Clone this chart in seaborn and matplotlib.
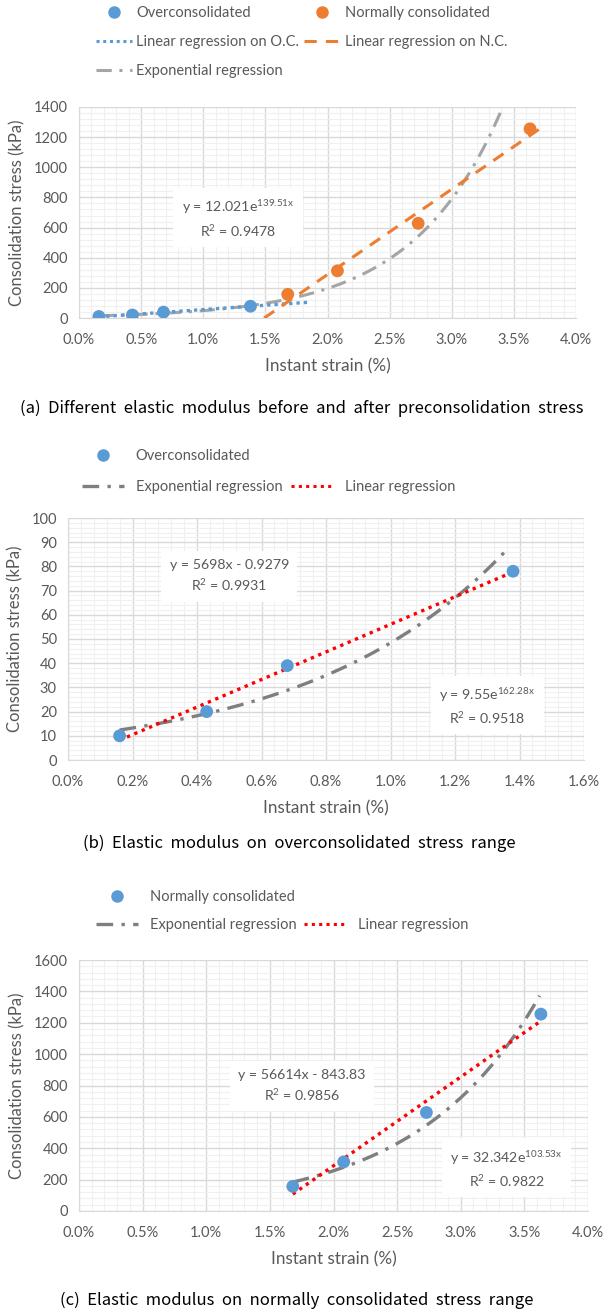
import numpy as np
import pandas as pd
import seaborn as sns
import matplotlib.pyplot as plt
from matplotlib.ticker import PercentFormatter, MultipleLocator
from matplotlib.lines import Line2D

sns.set_style("white")
plt.rcParams['font.family'] = ['Lato', 'DejaVu Sans']
plt.rcParams['mathtext.default'] = 'regular'

# measured points (strain as fraction, stress in kPa)
oc_strain = [0.0016, 0.0043, 0.0068, 0.0138]
oc_stress = [10, 20, 39, 78]
nc_strain = [0.0168, 0.0208, 0.0273, 0.0363]
nc_stress = [157, 313, 628, 1255]

# trendline coefficients as printed on the chart
exp_all = (12.021, 139.51)
lin_oc = (5698, -0.9279)
exp_oc = (9.55, 162.28)
lin_nc = (56614, -843.83)
exp_nc = (32.342, 103.53)

BLUE = '#5B9BD5'
ORANGE = '#ED7D31'
LGRAY = '#A5A5A5'
DGRAY = '#7F7F7F'
RED = '#FF0000'
TXT = '#595959'
DASHDOT = (0, (5, 2.5, 1, 2.5))
DOTS = (0, (1, 1.2))

W, H = 607, 1316
fig = plt.figure(figsize=(W / 100, H / 100), dpi=100)


def add_ax(left, top, right, bottom):
    return fig.add_axes([left / W, (H - bottom) / H, (right - left) / W, (bottom - top) / H])


def style(ax, xmax, xmaj, xmin, ymax, ymaj, ymin):
    ax.set_xlim(0, xmax)
    ax.set_ylim(0, ymax)
    ax.xaxis.set_major_locator(MultipleLocator(xmaj))
    ax.xaxis.set_minor_locator(MultipleLocator(xmin))
    ax.yaxis.set_major_locator(MultipleLocator(ymaj))
    ax.yaxis.set_minor_locator(MultipleLocator(ymin))
    ax.xaxis.set_major_formatter(PercentFormatter(xmax=1, decimals=1))
    ax.grid(which='minor', color='#F0F0F0', lw=0.8)
    ax.grid(which='major', color='#D9D9D9', lw=1.0)
    ax.set_axisbelow(True)
    for s in ax.spines.values():
        s.set_color('#D9D9D9')
    ax.spines['top'].set_visible(False)
    ax.spines['right'].set_visible(False)
    ax.tick_params(which='major', length=4, color='#BFBFBF', labelsize=10.5, labelcolor=TXT)
    ax.tick_params(axis='x', pad=7)
    ax.tick_params(axis='y', pad=4)
    ax.tick_params(which='minor', length=0)
    ax.set_xlabel('Instant strain (%)', fontsize=12.3, color=TXT, labelpad=8)
    ax.set_ylabel('Consolidation stress (kPa)', fontsize=12, color=TXT, labelpad=6)


def eqbox(ax, x, y, s):
    ax.text(x, y, s, ha='center', va='center', fontsize=10.2, color=TXT, linespacing=1.45,
            bbox=dict(facecolor='white', edgecolor='none', pad=6), zorder=6)


def trend(ax, x, y, color, ls, lw=2.0):
    d = pd.DataFrame({'x': x, 'y': y})
    sns.lineplot(data=d, x='x', y='y', ax=ax, color=color, lw=lw, linestyle=ls,
                 estimator=None, sort=False, zorder=4)


def caption(x, y, s):
    fig.text(x / W, 1 - y / H, s, ha='center', va='center', fontsize=12, color='black',
             family=['Noto Sans CJK KR', 'DejaVu Sans'])


def legend(h, lab, x, y, hl, tp, cs, ls):
    fig.legend(h, lab, ncol=2, loc='upper left', bbox_to_anchor=(x / W, 1 - y / H), frameon=False,
               fontsize=10.5, labelcolor=TXT, handlelength=hl, columnspacing=cs, labelspacing=ls,
               handletextpad=tp, borderpad=0.3)


# ---------- (a) ----------
ax1 = add_ax(79, 107, 576, 318)
xe = np.linspace(oc_strain[0], 0.0342, 200)
trend(ax1, xe, exp_all[0] * np.exp(exp_all[1] * xe), LGRAY, DASHDOT, 2.2)
xl = np.array([oc_strain[0], 0.0185])
trend(ax1, xl, lin_oc[0] * xl + lin_oc[1], BLUE, DOTS, 2.4)
xn = np.array([0.0149, 0.0373])
trend(ax1, xn, lin_nc[0] * xn + lin_nc[1], ORANGE, (0, (4, 3)), 2.2)
sns.scatterplot(x=oc_strain, y=oc_stress, ax=ax1, color=BLUE, s=85, edgecolor='none', zorder=5)
sns.scatterplot(x=nc_strain, y=nc_stress, ax=ax1, color=ORANGE, s=85, edgecolor='none', zorder=5)
style(ax1, 0.04, 0.005, 0.001, 1400, 200, 40)
eqbox(ax1, 0.0128, 660, 'y = 12.021e$^{139.51x}$\nR$^2$ = 0.9478')

h = [Line2D([], [], ls='none', marker='o', ms=8, color=BLUE),
     Line2D([], [], color=BLUE, lw=2.2, ls=DOTS),
     Line2D([], [], color=LGRAY, lw=2.2, ls=DASHDOT),
     Line2D([], [], ls='none', marker='o', ms=8, color=ORANGE),
     Line2D([], [], color=ORANGE, lw=2.2, ls=(0, (4, 3)))]
lab = ['Overconsolidated', 'Linear regression on O.C.', 'Exponential regression',
       'Normally consolidated', 'Linear regression on N.C.']
legend(h, lab, 84, -6, 2.5, 0.3, 0.3, 1.05)

caption(302, 408, '(a)  Different  elastic  modulus  before  and  after  preconsolidation  stress')

# ---------- (b) ----------
ax2 = add_ax(68, 518, 584, 760)
xe = np.linspace(oc_strain[0], 0.0136, 200)
trend(ax2, xe, exp_oc[0] * np.exp(exp_oc[1] * xe), DGRAY, DASHDOT, 2.4)
xl = np.array([oc_strain[0], oc_strain[-1]])
trend(ax2, xl, lin_oc[0] * xl + lin_oc[1], RED, (0, (1, 1.4)), 2.4)
sns.scatterplot(x=oc_strain, y=oc_stress, ax=ax2, color=BLUE, s=85, edgecolor='none', zorder=5)
style(ax2, 0.016, 0.002, 0.0004, 100, 10, 2)
eqbox(ax2, 0.0050, 76, 'y = 5698x - 0.9279\nR$^2$ = 0.9931')
eqbox(ax2, 0.0130, 22.3, 'y = 9.55e$^{162.28x}$\nR$^2$ = 0.9518')

h = [Line2D([], [], ls='none', marker='o', ms=8, color=BLUE),
     Line2D([], [], color=DGRAY, lw=2.4, ls=DASHDOT),
     Line2D([], [], ls='none'),
     Line2D([], [], color=RED, lw=2.2, ls=(0, (1, 1.4)))]
lab = ['Overconsolidated', 'Exponential regression', '', 'Linear regression']
legend(h, lab, 70, 437, 2.9, 0.8, 0.6, 1.2)

caption(299, 843, '(b)  Elastic  modulus  on  overconsolidated  stress  range')

# ---------- (c) ----------
ax3 = add_ax(79, 960, 588, 1211)
xe = np.linspace(nc_strain[0], 0.0362, 200)
trend(ax3, xe, exp_nc[0] * np.exp(exp_nc[1] * xe), DGRAY, DASHDOT, 2.4)
xl = np.array([nc_strain[0], nc_strain[-1]])
trend(ax3, xl, lin_nc[0] * xl + lin_nc[1], RED, (0, (1, 1.4)), 2.4)
sns.scatterplot(x=nc_strain, y=nc_stress, ax=ax3, color=BLUE, s=85, edgecolor='none', zorder=5)
style(ax3, 0.04, 0.005, 0.001, 1600, 200, 40)
eqbox(ax3, 0.0175, 797, 'y = 56614x - 843.83\nR$^2$ = 0.9856')
eqbox(ax3, 0.0336, 270, 'y = 32.342e$^{103.53x}$\nR$^2$ = 0.9822')

h = [Line2D([], [], ls='none', marker='o', ms=8, color=BLUE),
     Line2D([], [], color=DGRAY, lw=2.4, ls=DASHDOT),
     Line2D([], [], ls='none'),
     Line2D([], [], color=RED, lw=2.2, ls=(0, (1, 1.4)))]
lab = ['Normally consolidated', 'Exponential regression', '', 'Linear regression']
legend(h, lab, 84, 878, 2.9, 0.8, 0.5, 1.0)

caption(297, 1300, '(c)  Elastic  modulus  on  normally  consolidated  stress  range')

fig.savefig('out.png', dpi=100, facecolor='white')
